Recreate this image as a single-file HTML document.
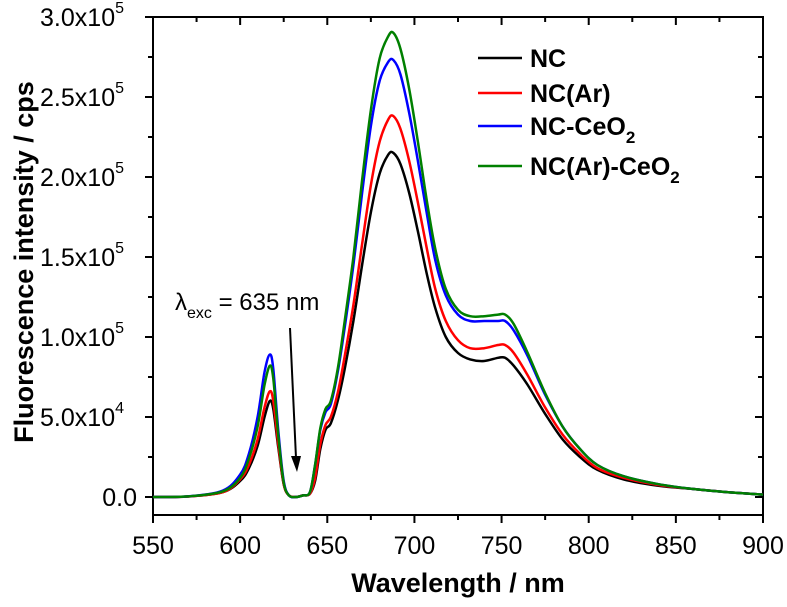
<!DOCTYPE html>
<html><head><meta charset="utf-8"><style>
body{margin:0;background:#fff}
svg{display:block;font-family:"Liberation Sans",Arial,sans-serif}
</style></head><body>
<svg id="chart" width="787" height="607" viewBox="0 0 787 607">
<g id="axes"></g><g id="series"></g>
<text x="458" y="592" font-size="27" font-weight="bold" text-anchor="middle">Wavelength / nm</text>
<text transform="translate(33,262) rotate(-90)" font-size="27" font-weight="bold" text-anchor="middle">Fluorescence intensity / cps</text>
<g>
<text x="175" y="310" font-size="24">λ<tspan font-size="16" dy="8">exc</tspan><tspan dy="-8"> = 635 nm</tspan></text>
<line x1="290" y1="328" x2="296" y2="458" stroke="#000" stroke-width="2"/>
<polygon points="291,456 301,456 297,472" fill="#000"/>
</g>
<g id="legend"></g>
</svg>
<script>
const wl=[550,570,590,600,605,610,614,617,619,622,625,628,632,636,640,643,646,649,652,656,660,665,670,675,680,685,688,692,697,702,707,712,718,725,732,740,748,752,757,765,775,785,795,805,820,840,860,880,900];
const nc=[0,.003,.03,.1,.18,.32,.5,.6,.55,.3,.08,.01,0,.01,.02,.1,.3,.42,.46,.6,.8,1.1,1.45,1.78,2.02,2.14,2.15,2.08,1.9,1.66,1.4,1.18,1.0,.9,.86,.85,.87,.87,.82,.7,.52,.36,.25,.17,.11,.07,.05,.03,.015];
const ncAr=[0,.003,.03,.11,.2,.36,.56,.66,.6,.32,.08,.01,0,.01,.02,.12,.33,.45,.5,.65,.88,1.2,1.58,1.95,2.22,2.36,2.38,2.3,2.1,1.84,1.56,1.3,1.1,.98,.93,.93,.95,.95,.9,.76,.56,.39,.27,.18,.12,.075,.05,.03,.015];
const ncCeO2=[0,.004,.04,.14,.27,.5,.78,.89,.8,.4,.1,.01,0,.01,.03,.2,.42,.53,.58,.78,1.06,1.45,1.9,2.32,2.6,2.72,2.73,2.64,2.4,2.1,1.78,1.48,1.26,1.14,1.1,1.1,1.1,1.1,1.04,.88,.64,.44,.3,.2,.13,.08,.05,.03,.015];
const ncArCeO2=[0,.004,.035,.12,.24,.44,.7,.82,.74,.37,.09,.01,0,.01,.03,.2,.43,.55,.6,.8,1.1,1.5,1.98,2.42,2.74,2.88,2.9,2.8,2.55,2.22,1.86,1.55,1.3,1.17,1.13,1.13,1.14,1.14,1.08,.9,.65,.44,.3,.2,.13,.08,.05,.03,.015];
const xTicks=[550,600,650,700,750,800,850,900];
const yTicks=[0,0.5,1,1.5,2,2.5,3];
const yTickLabels=["0.0","5.0x10","1.0x10","1.5x10","2.0x10","2.5x10","3.0x10"];
const yTickExp=["","4","5","5","5","5","5"];
const seriesNames=["NC","NC(Ar)","NC-CeO","NC(Ar)-CeO"];
const seriesColors=["#000","#f00","#00f","#008000"];
const L=153,R=763,T=17,B=515;
const X=v=>L+(v-550)/350*(R-L);
const Y=v=>497-v/3*480;
const NS="http://www.w3.org/2000/svg";
function mk(t,a,p){const e=document.createElementNS(NS,t);for(const k in a)e.setAttribute(k,a[k]);p.appendChild(e);return e;}
const ax=document.getElementById('axes');
const frame=mk('rect',{x:L,y:T,width:R-L,height:B-T,fill:'none',stroke:'#000','stroke-width':2},ax);


for(let v=550;v<=900;v+=25){const x=X(v),len=v%50===0?8:5;
mk('line',{x1:x,y1:B,x2:x,y2:B+len,stroke:'#000','stroke-width':2},ax);
mk('line',{x1:x,y1:T,x2:x,y2:T+len,stroke:'#000','stroke-width':2},ax);}
xTicks.forEach(v=>{const t=mk('text',{x:X(v),y:B+39,'font-size':25,'text-anchor':'middle'},ax);t.textContent=v;

});
for(let v=0;v<=3.001;v+=0.25){const y=Y(v),len=Math.abs(v*2-Math.round(v*2))<1e-6?8:5;
mk('line',{x1:L-len,y1:y,x2:L,y2:y,stroke:'#000','stroke-width':2},ax);
mk('line',{x1:R-len,y1:y,x2:R,y2:y,stroke:'#000','stroke-width':2},ax);}
yTicks.forEach((v,i)=>{const t=mk('text',{x:yTickExp[i]?L-29:L-16,y:Y(v)+9,'font-size':25,'text-anchor':'end'},ax);
t.textContent=yTickLabels[i];
if(yTickExp[i]){const s=mk('tspan',{'font-size':16,dy:-13},t);s.textContent=yTickExp[i];}

});
function smooth(pts){let d='M'+pts[0][0].toFixed(1)+','+pts[0][1].toFixed(1);
for(let i=0;i<pts.length-1;i++){const p0=pts[Math.max(0,i-1)],p1=pts[i],p2=pts[i+1],p3=pts[Math.min(pts.length-1,i+2)];
const c1=[p1[0]+(p2[0]-p0[0])/6,p1[1]+(p2[1]-p0[1])/6],c2=[p2[0]-(p3[0]-p1[0])/6,p2[1]-(p3[1]-p1[1])/6];
d+='C'+c1.map(n=>n.toFixed(1)).join(',')+' '+c2.map(n=>n.toFixed(1)).join(',')+' '+p2[0].toFixed(1)+','+p2[1].toFixed(1);}
return d;}
const sg=document.getElementById('series');
[nc,ncAr,ncCeO2,ncArCeO2].forEach((d,i)=>{
const p=mk('path',{d:smooth(d.map((v,j)=>[X(wl[j]),Y(v)])),fill:'none',stroke:seriesColors[i],'stroke-width':2.5,'stroke-linejoin':'round'},sg);

});
const lg=document.getElementById('legend');
const ly=[58,93,126,166];
seriesNames.forEach((n,i)=>{
const l=mk('line',{x1:478,y1:ly[i],x2:522,y2:ly[i],stroke:seriesColors[i],'stroke-width':2.5},lg);


const t=mk('text',{x:530,y:ly[i]+9,'font-size':25,'font-weight':'bold'},lg);t.textContent=n;
if(i>=2){const s=mk('tspan',{'font-size':17,dy:8},t);s.textContent='2';}

});
</script>
</body></html>
